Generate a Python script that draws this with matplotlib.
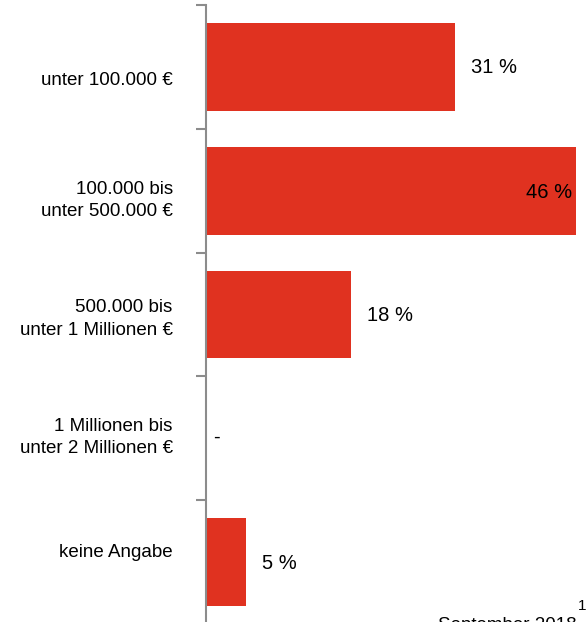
import numpy as np
import matplotlib
matplotlib.use("Agg")
import matplotlib.pyplot as plt

plt.rcParams['font.family'] = ['Liberation Sans', 'DejaVu Sans']

categories = ["unter 100.000 €",
              "100.000 bis\nunter 500.000 €",
              "500.000 bis\nunter 1 Millionen €",
              "1 Millionen bis\nunter 2 Millionen €",
              "keine Angabe"]
values = [31, 46, 18, 0, 5]
bar_color = "#e03220"
axis_color = "#8c8c8c"


def value_label(v):
    if v == 0:
        return "-"
    return "{} %".format(v)


def main():
    W, H = 586, 622
    fig = plt.figure(figsize=(W / 100, H / 100), dpi=100)
    ax = fig.add_axes([206 / W, -2 / H, 380 / W, 619 / H])

    y = np.arange(len(categories))
    ax.barh(y, values, height=0.71, color=bar_color, zorder=2)
    ax.set_ylim(len(categories) - 0.5, -0.5)
    ax.set_xlim(0, 380 / (370 / 46))

    for yi, v in zip(y, values):
        txt = value_label(v)
        if v == max(values):
            ax.annotate(txt, (v, yi), xytext=(-4, -2), textcoords="offset pixels",
                        ha="right", va="center", fontsize=14.5, color="black")
        elif v == 0:
            ax.annotate(txt, (v, yi), xytext=(7, 1), textcoords="offset pixels",
                        ha="left", va="center", fontsize=14.5, color="black")
        else:
            ax.annotate(txt, (v, yi), xytext=(16, -1), textcoords="offset pixels",
                        ha="left", va="center", fontsize=14.5, color="black")

    # category labels sit on a slightly tighter pitch than the bars
    label_pos = 0.09 + y * 0.955
    ax.set_yticks(label_pos)
    ax.set_yticklabels(categories, fontsize=13.5, linespacing=1.4)
    ax.tick_params(axis="y", which="major", length=0, pad=24)
    # tick marks at the category boundaries
    ax.set_yticks(np.arange(-0.5, len(categories)), minor=True)
    ax.tick_params(axis="y", which="minor", length=7, width=1.5, color=axis_color)

    ax.set_xticks([])
    for side in ["top", "right", "bottom"]:
        ax.spines[side].set_visible(False)
    ax.spines["left"].set_color(axis_color)
    ax.spines["left"].set_linewidth(1.5)

    fig.text(577 / W, 1 - 617 / H, "September 2018", ha="right", va="top", fontsize=13.5)
    fig.text(578 / W, 1 - 599 / H, "1", ha="left", va="top", fontsize=11)

    fig.savefig("out.png", dpi=100)


if __name__ == "__main__":
    main()
